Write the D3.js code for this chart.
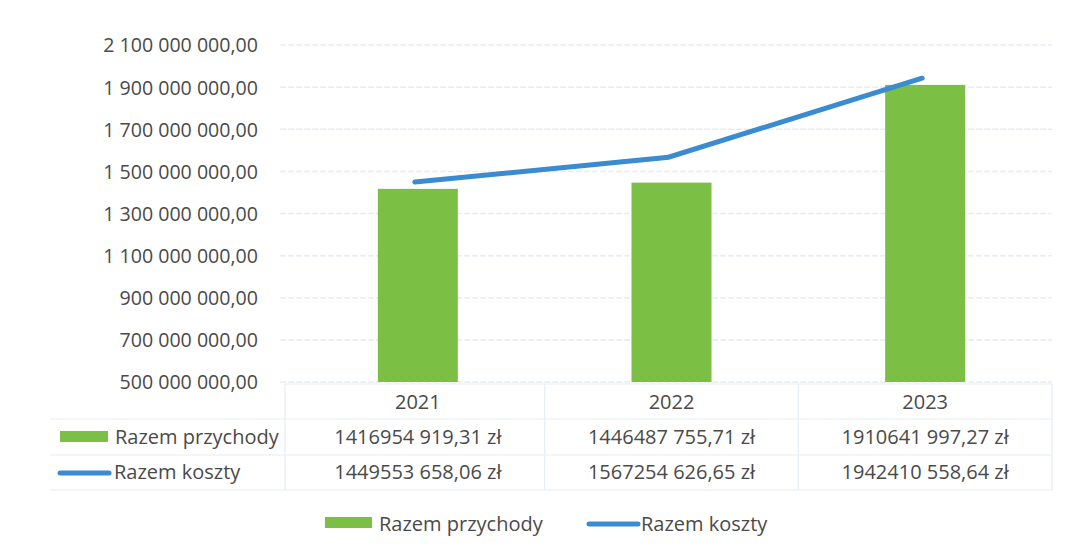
<!DOCTYPE html>
<html>
<head>
<meta charset="utf-8">
<script src="https://cdn.jsdelivr.net/npm/d3@7"></script>
<style>
  body { margin: 0; background: #fff; }
  svg { font-family: "Open Sans", "Noto Sans", sans-serif; }
</style>
</head>
<body>
<svg width="1069" height="557"></svg>
<script>
// data
var years = ["2021", "2022", "2023"];
var przychody = [1416954919.31, 1446487755.71, 1910641997.27];
var koszty = [1449553658.06, 1567254626.65, 1942410558.64];
var przychodyLabels = ["1416954 919,31 zł", "1446487 755,71 zł", "1910641 997,27 zł"];
var kosztyLabels = ["1449553 658,06 zł", "1567254 626,65 zł", "1942410 558,64 zł"];
var yTicks = [500000000, 700000000, 900000000, 1100000000, 1300000000, 1500000000, 1700000000, 1900000000, 2100000000];

var svg = d3.select("svg");
var green = "#7bbf45", blue = "#3a8bcf", textCol = "#4a4a4a", gridCol = "#e6edf6";
var fs = "20px";

var x = d3.scaleBand().domain(years).range([291, 1052]);
var y = d3.scaleLinear().domain([500000000, 2100000000]).range([382, 45]);

function fmt(v) {
  return d3.format(",.2f")(v).replace(/,/g, " ").replace(/\.(\d\d)$/, ",$1");
}

// gridlines
svg.append("g")
  .selectAll("line")
  .data(yTicks)
  .enter().append("line")
  .attr("x1", 280).attr("x2", 1052)
  .attr("y1", d => y(d)).attr("y2", d => y(d))
  .attr("stroke", gridCol).attr("stroke-width", 1.5)
  .attr("stroke-dasharray", "6,2");

// y axis labels
var yAxis = d3.axisLeft(y).tickValues(yTicks).tickFormat(fmt).tickSize(0).tickPadding(0);
var yg = svg.append("g").attr("transform", "translate(258,0)").call(yAxis);
yg.select(".domain").remove();
yg.selectAll("text").attr("fill", textCol).style("font-size", "19.6px")
  .style("font-family", "'Open Sans', sans-serif").attr("dy", "0.35em");

// bars
var barW = 80;
svg.append("g")
  .selectAll("rect")
  .data(przychody)
  .enter().append("rect")
  .attr("x", (d, i) => x(years[i]) + x.bandwidth() / 2 - barW / 2)
  .attr("width", barW)
  .attr("y", d => y(d))
  .attr("height", d => y(500000000) - y(d))
  .attr("fill", green);

// line
var line = d3.line()
  .x((d, i) => x(years[i]) + x.bandwidth() / 2 - 3)
  .y(d => y(d));
svg.append("path")
  .datum(koszty)
  .attr("d", line)
  .attr("fill", "none")
  .attr("stroke", blue)
  .attr("stroke-width", 5)
  .attr("stroke-linecap", "round");

// data table
var tbl = svg.append("g");
[384].forEach(function (ty) {
  tbl.append("line").attr("x1", 285).attr("x2", 1052).attr("y1", ty).attr("y2", ty)
    .attr("stroke", gridCol).attr("stroke-width", 1.2);
});
[419, 455, 490].forEach(function (ty) {
  tbl.append("line").attr("x1", 50).attr("x2", 1052).attr("y1", ty).attr("y2", ty)
    .attr("stroke", gridCol).attr("stroke-width", 1.2);
});
[285].concat(years.map(d => x(d) + x.bandwidth())).forEach(function (tx) {
  tbl.append("line").attr("x1", tx).attr("x2", tx).attr("y1", 384).attr("y2", 490)
    .attr("stroke", gridCol).attr("stroke-width", 1.2);
});

tbl.selectAll(".yr")
  .data(years)
  .enter().append("text")
  .attr("x", d => x(d) + x.bandwidth() / 2)
  .attr("y", 402)
  .attr("text-anchor", "middle").attr("dy", "0.35em")
  .attr("fill", textCol).style("font-size", fs)
  .text(d => d);

function row(labels, ty) {
  tbl.selectAll(null)
    .data(labels)
    .enter().append("text")
    .attr("x", (d, i) => x(years[i]) + x.bandwidth() / 2)
    .attr("y", ty)
    .attr("text-anchor", "middle").attr("dy", "0.35em")
    .attr("fill", textCol).style("font-size", fs)
    .text(d => d);
}
row(przychodyLabels, 437);
row(kosztyLabels, 472);

// table legend keys
tbl.append("rect").attr("x", 60).attr("y", 431).attr("width", 48).attr("height", 11).attr("fill", green);
tbl.append("text").attr("x", 115).attr("y", 437).attr("dy", "0.35em")
  .attr("fill", textCol).style("font-size", fs).text("Razem przychody");
tbl.append("line").attr("x1", 60).attr("x2", 109).attr("y1", 473).attr("y2", 473)
  .attr("stroke", blue).attr("stroke-width", 5).attr("stroke-linecap", "round");
tbl.append("text").attr("x", 114).attr("y", 472).attr("dy", "0.35em")
  .attr("fill", textCol).style("font-size", fs).text("Razem koszty");

// bottom legend
var lg = svg.append("g");
lg.append("rect").attr("x", 325).attr("y", 517).attr("width", 47).attr("height", 11).attr("fill", green);
lg.append("text").attr("x", 379).attr("y", 524).attr("dy", "0.35em")
  .attr("fill", textCol).style("font-size", fs).text("Razem przychody");
lg.append("line").attr("x1", 589).attr("x2", 638).attr("y1", 524).attr("y2", 524)
  .attr("stroke", blue).attr("stroke-width", 5).attr("stroke-linecap", "round");
lg.append("text").attr("x", 641).attr("y", 524).attr("dy", "0.35em")
  .attr("fill", textCol).style("font-size", fs).text("Razem koszty");
</script>
</body>
</html>
